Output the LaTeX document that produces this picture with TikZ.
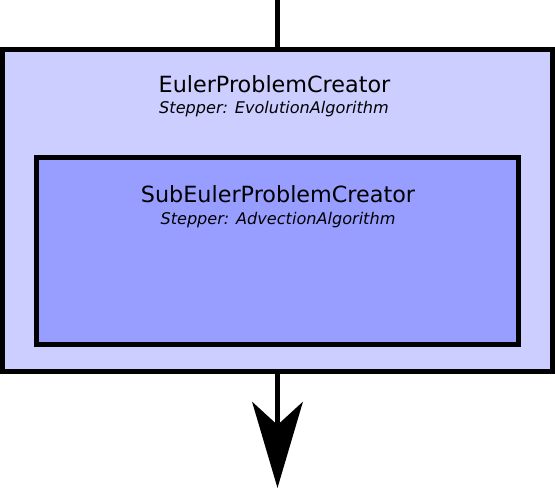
\documentclass[tikz,border=0pt]{standalone}
\usepackage{fontspec}
\setmainfont{DejaVu Sans}
\usetikzlibrary{arrows.meta}
\definecolor{outerblue}{RGB}{204,206,255}
\definecolor{innerblue}{RGB}{152,158,255}
\newcommand{\titlefont}{\fontsize{22.3}{26}\selectfont}
\newcommand{\stepfont}{\fontsize{16.1}{19}\selectfont\itshape}

\begin{document}
\begin{tikzpicture}[x=1pt,y=-1pt,
  creatorbox/.style={draw=black,line width=5pt,rectangle,inner sep=0pt,outer sep=0pt},
  flowline/.style={line width=5.5pt}]
\useasboundingbox (0,0) rectangle (555,489);
\node[creatorbox,fill=outerblue,minimum width=550pt,minimum height=322pt] (euler) at (277.5,210.8) {};
\node[creatorbox,fill=innerblue,minimum width=482.5pt,minimum height=187.3pt] (subeuler) at (277.3,251.2) {};
\node[anchor=base,inner sep=0pt] (eulername) at (274.5,92.3) {\titlefont EulerProblemCreator};
\node[anchor=base,inner sep=0pt] (eulerstep) at (274,114) {\stepfont Stepper: EvolutionAlgorithm};
\node[anchor=base,inner sep=0pt] (subname) at (278,202.3) {\titlefont SubEulerProblemCreator};
\node[anchor=base,inner sep=0pt] (substep) at (278,224.3) {\stepfont Stepper: AdvectionAlgorithm};
\coordinate (in) at (277.5,0);
\coordinate (out) at (277.5,488);
\draw[flowline] (in) -- (euler.north);
\draw[flowline,-{Stealth[length=86pt,width=50.5pt,inset=23pt]}] (euler.south) -- (out);
\end{tikzpicture}
\end{document}
